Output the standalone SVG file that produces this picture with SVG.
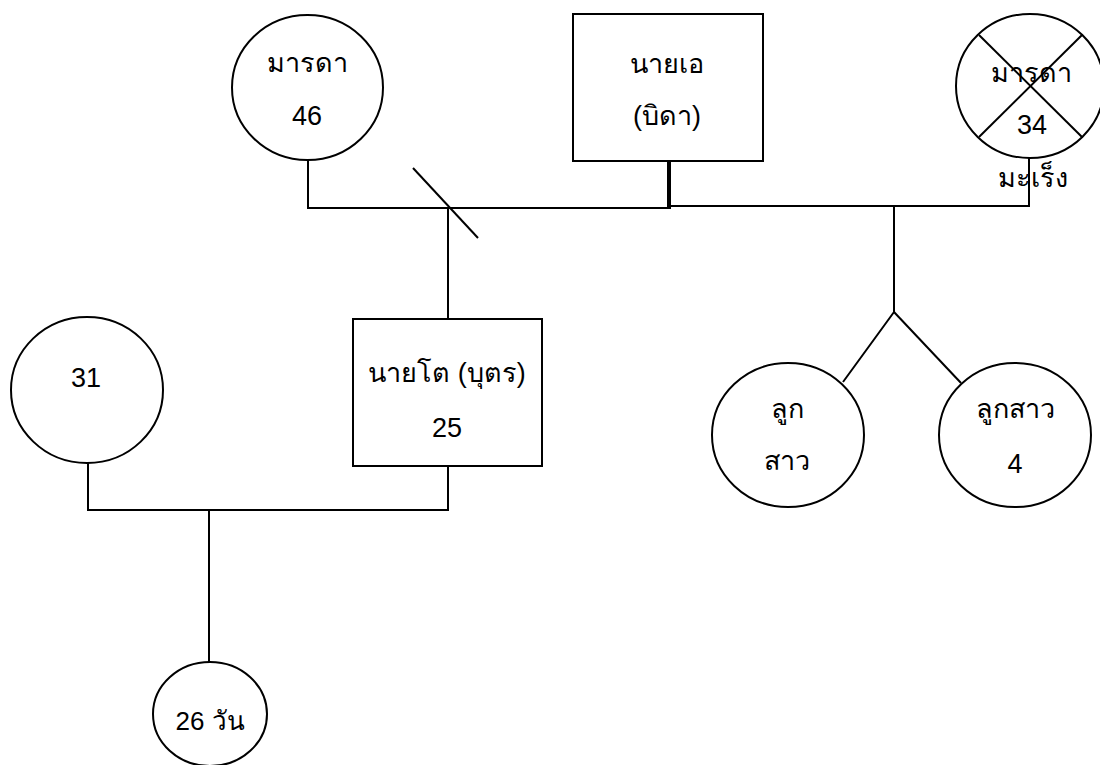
<svg xmlns="http://www.w3.org/2000/svg" width="1100" height="765" viewBox="0 0 1100 765">
<style>
.n{fill:#fff;stroke:#000;stroke-width:2}
.c{fill:none;stroke:#000;stroke-width:2}
.t{font-family:"Liberation Sans","Noto Sans",sans-serif;font-size:27px;fill:#000;text-anchor:middle}
</style>
<rect width="1100" height="765" fill="#fff"/>
<g id="connectors">
<polyline class="c" points="308,160 308,208 669,208"/>
<line class="c" x1="413" y1="168" x2="478" y2="238"/>
<line class="c" x1="448" y1="208" x2="448" y2="319"/>
<line x1="669" y1="161" x2="669" y2="209" stroke="#000" stroke-width="4"/>
<polyline class="c" points="669,206 1029,206 1029,158"/>
<polyline class="c" points="894,206 894,312 843,382"/>
<line class="c" x1="894" y1="312" x2="961" y2="383"/>
<polyline class="c" points="88,463 88,510 448,510 448,466"/>
<line class="c" x1="209" y1="510" x2="209" y2="662"/>
</g>
<g id="mother46">
<ellipse class="n" cx="307.5" cy="87.5" rx="75.5" ry="72.5"/>
<text class="t" x="307" y="72">มารดา</text>
<text class="t" x="307" y="125">46</text>
</g>
<g id="father">
<rect class="n" x="573" y="14" width="190" height="147"/>
<text class="t" x="667" y="73">นายเอ</text>
<text class="t" x="667" y="125">(บิดา)</text>
</g>
<g id="mother34">
<ellipse class="n" cx="1030" cy="86" rx="74" ry="72"/>
<line class="c" x1="979" y1="35" x2="1082" y2="137"/>
<line class="c" x1="1082" y1="35" x2="979" y2="137"/>
<text class="t" x="1031" y="82">มารดา</text>
<text class="t" x="1032" y="134">34</text>
<text class="t" x="1033" y="187">มะเร็ง</text>
</g>
<g id="son">
<rect class="n" x="353" y="319" width="189" height="147"/>
<text class="t" x="447" y="382">นายโต (บุตร)</text>
<text class="t" x="447" y="437">25</text>
</g>
<g id="wife31">
<ellipse class="n" cx="87" cy="390" rx="76" ry="73"/>
<text class="t" x="86" y="387">31</text>
</g>
<g id="baby">
<ellipse class="n" cx="210" cy="714" rx="57" ry="52"/>
<text class="t" x="210" y="730" style="font-size:26px">26 วัน</text>
</g>
<g id="daughter1">
<ellipse class="n" cx="788" cy="435" rx="76" ry="72"/>
<text class="t" x="787" y="418">ลูก</text>
<text class="t" x="787" y="470">สาว</text>
</g>
<g id="daughter2">
<ellipse class="n" cx="1015" cy="435" rx="76" ry="72"/>
<text class="t" x="1015" y="418">ลูกสาว</text>
<text class="t" x="1015" y="473">4</text>
</g>
</svg>
